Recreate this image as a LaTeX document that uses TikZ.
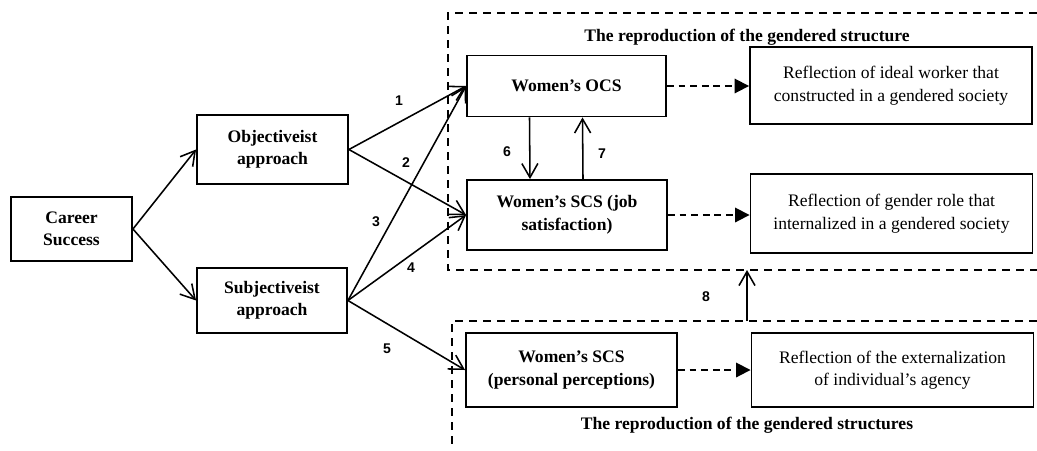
\documentclass[tikz,border=0pt]{standalone}
\usepackage{fontspec}
\setmainfont{Liberation Serif}
\newfontfamily\numfont{Liberation Sans}
\usetikzlibrary{arrows.meta}

\tikzset{
  box/.style={draw, line width=1.3pt, align=center, inner sep=2pt, font=\fontsize{12.5}{16}\selectfont\bfseries},
  refl/.style={draw, line width=1.3pt, align=center, inner sep=2pt, minimum width=7.05cm, font=\fontsize{12.5}{16}\selectfont},
  num/.style={font=\numfont\fontsize{10}{12}\selectfont\bfseries},
  ttl/.style={font=\fontsize{12.5}{15}\selectfont\bfseries},
  frame/.style={line width=1.3pt, dash pattern=on 2mm off 1.5mm},
  dasharr/.style={line width=1.3pt, dash pattern=on 1.7mm off 1.2mm, -{Triangle[length=3.6mm,width=3.6mm]}},
}

\begin{document}
\begin{tikzpicture}[x=0.025cm, y=-0.025cm, >={Straight Barb[length=3.5mm,width=4mm]}, line width=1.1pt]
	\useasboundingbox (0,0) rectangle (1037,450);
	
	% structures
	\draw[frame] (1037,13) -| (448,270) -- (1037,270);
	\draw[frame] (1037,321) -| (452,450);
	\node[ttl] (T1) at (747,37) {The reproduction of the gendered structure};
	\node[ttl] (T2) at (747,425) {The reproduction of the gendered structures};
	
	% career success
	\node[box, minimum width=3.025cm, minimum height=1.6cm] (CS) at (71.5,229) {Career\\Success};
	\node[box, minimum width=3.775cm, minimum height=1.725cm] (OA) at (272.5,149.5) {Objectiveist\\approach};
	\node[box, minimum width=3.75cm, minimum height=1.625cm] (SA) at (272,300.5) {Subjectiveist\\approach};
	\draw[->] (CS.east) -- (OA.west);
	\draw[->] (CS.east) -- (SA.west);
	
	% women
	\node[box, minimum width=4.975cm, minimum height=1.525cm] (OCS) at (566.5,86) {Women's OCS};
	\node[box, minimum width=5cm, minimum height=1.75cm] (SCSj) at (567,215) {Women's SCS (job\\satisfaction)};
	\node[box, minimum width=5.275cm, minimum height=1.85cm] (SCSp) at (571.5,370) {Women's SCS\\(personal perceptions)};
	\draw[->] (OA.east) -- (OCS.west);
	\draw[->] (OA.east) -- (SCSj.west);
	\draw[->] (SA.east) -- (OCS.west);
	\draw[->] (SA.east) -- (SCSj.west);
	\draw[->] (SA.east) -- (SCSp.west);
	\draw[->] ([xshift=-0.925cm]OCS.south) -- ([xshift=-0.925cm]SCSj.north);
	\draw[->] ([xshift=0.4cm]SCSj.north) -- ([xshift=0.4cm]OCS.south);
	
	\coordinate (B8) at (747,321);
	\coordinate (A8) at (747,270);
	\draw[->] (B8) -- (A8);
	
	\foreach \n/\x/\y in {1/399/101, 2/406/163, 3/376/222, 4/411/268, 5/387/349, 6/507/152, 7/602/154, 8/706/297} {
		\node[num] (L\n) at (\x,\y) {\n};
	}
	
	% reflections
	\node[refl, minimum height=1.925cm] (R1) at (891,85.5) {Reflection of ideal worker that\\constructed in a gendered society};
	\node[refl, minimum height=1.975cm] (R2) at (891.5,213.5) {Reflection of gender role that\\internalized in a gendered society};
	\node[refl, minimum height=1.85cm] (R3) at (892.5,370) {Reflection of the externalization\\of individual's agency};
	\draw[dasharr] (OCS.east) -- (OCS.east -| R1.west);
	\draw[dasharr] (SCSj.east) -- (SCSj.east -| R2.west);
	\draw[dasharr] (SCSp.east) -- (SCSp.east -| R3.west);
\end{tikzpicture}
\end{document}
